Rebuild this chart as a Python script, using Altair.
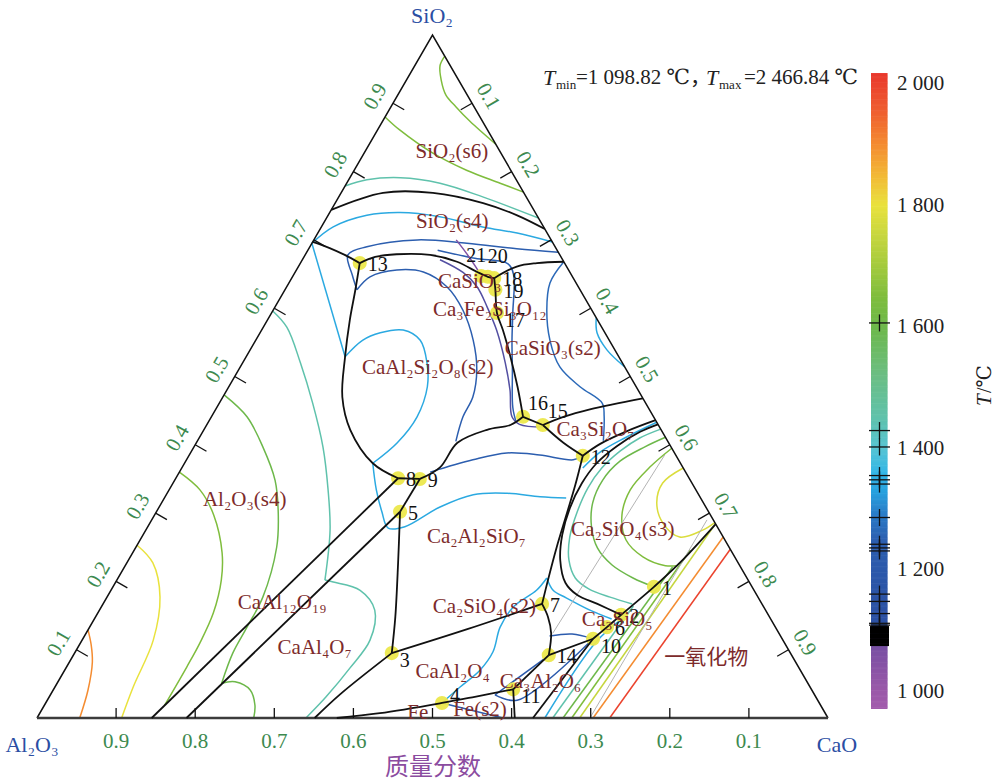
import altair as alt
import pandas as pd

# ---------------------------------------------------------------------------
# Page and triangle geometry (pixels)
# ---------------------------------------------------------------------------
W, H = 996, 781
LEFT_X, BASE_Y, SIDE_PX, HEIGHT_PX = 37, 718, 791, 683

SERIF = "Liberation Serif, DejaVu Serif, Noto Sans CJK SC, serif"
CJK = "Noto Sans CJK SC, sans-serif"

# ---------------------------------------------------------------------------
# Compositions are mass fractions written as (CaO, SiO2); Al2O3 is the balance
# ---------------------------------------------------------------------------

# Invariant points 1-21
POINT_ID = list(range(1, 22))
POINT_CAO = [0.684, 0.663, 0.401, 0.501, 0.308, 0.654, 0.555, 0.281, 0.309, 0.645,
             0.581, 0.498, 0.075, 0.601, 0.425, 0.394, 0.285, 0.256, 0.266, 0.247, 0.238]
POINT_SIO2 = [0.192, 0.151, 0.095, 0.022, 0.302, 0.133, 0.167, 0.351, 0.350, 0.116,
              0.042, 0.384, 0.666, 0.092, 0.429, 0.441, 0.593, 0.644, 0.627, 0.646, 0.647]
POINT_SIDE = ["e", "e", "se", "ene", "e", "e", "e", "e", "e", "se",
              "se", "e", "e", "e", "ne", "ne", "se", "e", "e", "n", "nw"]

# Phase-field boundaries
B_S6_S4 = [(0.000, 0.744), (0.053, 0.769), (0.116, 0.769), (0.187, 0.754), (0.239, 0.736), (0.284, 0.716)]
B_EDGE_13 = [(0.000, 0.697), (0.026, 0.688), (0.050, 0.678), (0.075, 0.666)]
B_13_18 = [(0.075, 0.666), (0.090, 0.675), (0.115, 0.679), (0.158, 0.678), (0.197, 0.668),
           (0.230, 0.653), (0.247, 0.646), (0.256, 0.644)]
B_18_EDGE = [(0.256, 0.644), (0.276, 0.661), (0.299, 0.666), (0.332, 0.668)]
B_13_8 = [(0.075, 0.666), (0.089, 0.627), (0.104, 0.583), (0.125, 0.529), (0.151, 0.470),
          (0.185, 0.422), (0.238, 0.373), (0.281, 0.351)]
B_8_9 = [(0.281, 0.351), (0.309, 0.350)]
B_9_16 = [(0.309, 0.350), (0.326, 0.367), (0.330, 0.403), (0.358, 0.422), (0.384, 0.429), (0.394, 0.441)]
B_18_16 = [(0.256, 0.644), (0.266, 0.627), (0.285, 0.593), (0.305, 0.568), (0.334, 0.529),
           (0.365, 0.485), (0.394, 0.441)]
B_16_15 = [(0.394, 0.441), (0.425, 0.429)]
B_15_EDGE = [(0.425, 0.429), (0.445, 0.441), (0.473, 0.452), (0.532, 0.468)]
B_15_12 = [(0.425, 0.429), (0.464, 0.403), (0.498, 0.384)]
B_12_EDGE = [(0.498, 0.384), (0.511, 0.401), (0.536, 0.420), (0.564, 0.436)]
B_12_7 = [(0.498, 0.384), (0.510, 0.341), (0.520, 0.300), (0.532, 0.250), (0.545, 0.202), (0.555, 0.167)]
B_7_14 = [(0.555, 0.167), (0.572, 0.148), (0.588, 0.124), (0.601, 0.092)]
B_C2S_LOOP = [(0.570, 0.430), (0.553, 0.419), (0.534, 0.398), (0.521, 0.373), (0.517, 0.344),
              (0.520, 0.307), (0.530, 0.268), (0.546, 0.231), (0.569, 0.198), (0.593, 0.180),
              (0.625, 0.167), (0.663, 0.151)]
B_10_EDGE = [(0.645, 0.116), (0.654, 0.133), (0.663, 0.151), (0.684, 0.192), (0.699, 0.227), (0.716, 0.284)]
B_10_BASE = [(0.645, 0.116), (0.627, 0.000)]
B_14_10 = [(0.601, 0.092), (0.645, 0.116)]
B_11_14 = [(0.581, 0.042), (0.601, 0.092)]
B_11_BASE = [(0.581, 0.042), (0.604, 0.000)]
B_BASE_11 = [(0.379, 0.000), (0.430, 0.007), (0.501, 0.022), (0.538, 0.031), (0.581, 0.042)]
B_3_7 = [(0.401, 0.095), (0.479, 0.130), (0.555, 0.167)]
B_5_3 = [(0.308, 0.302), (0.343, 0.227), (0.379, 0.148), (0.401, 0.095)]
B_9_5 = [(0.309, 0.350), (0.308, 0.302)]
B_BASE_8 = [(0.145, 0.000), (0.281, 0.351)]
B_BASE_5 = [(0.189, 0.000), (0.308, 0.302)]
B_BASE_3 = [(0.351, 0.000), (0.366, 0.035), (0.401, 0.095)]

BOUNDARIES = [B_S6_S4, B_EDGE_13, B_13_18, B_18_EDGE, B_13_8, B_8_9, B_9_16, B_18_16, B_16_15,
              B_15_EDGE, B_15_12, B_12_EDGE, B_12_7, B_7_14, B_C2S_LOOP, B_10_EDGE, B_10_BASE,
              B_14_10, B_11_14, B_11_BASE, B_BASE_11, B_3_7, B_5_3, B_9_5, B_BASE_8, B_BASE_5,
              B_BASE_3]

# Liquidus isotherms, temperature in deg C
ISO_APEX = [(0.031, 0.969), (0.032, 0.955), (0.044, 0.934), (0.061, 0.912), (0.082, 0.895), (0.110, 0.874), (0.160, 0.840)]
ISO_S6 = [(0.000, 0.880), (0.028, 0.861), (0.087, 0.827), (0.142, 0.802), (0.194, 0.783), (0.230, 0.770)]
ISO_S6_LOW = [(0.000, 0.779), (0.023, 0.788), (0.064, 0.791), (0.118, 0.783), (0.182, 0.763), (0.268, 0.732)]
ISO_S4 = [(0.000, 0.695), (0.015, 0.719), (0.049, 0.736), (0.089, 0.740), (0.142, 0.734), (0.204, 0.719), (0.252, 0.710), (0.303, 0.697)]
ISO_AN_EDGE = [(0.000, 0.695), (0.125, 0.529)]
ISO_AN_LOOP = [(0.125, 0.529), (0.135, 0.553), (0.152, 0.564), (0.179, 0.568), (0.208, 0.553), (0.233, 0.520),
               (0.251, 0.485), (0.260, 0.441), (0.254, 0.403), (0.238, 0.373)]
ISO_GEH = [(0.238, 0.373), (0.262, 0.334), (0.285, 0.302), (0.305, 0.278), (0.325, 0.280), (0.355, 0.309),
           (0.388, 0.327), (0.430, 0.329), (0.474, 0.324), (0.508, 0.322)]
ISO_DB_TOP = [(0.318, 0.682), (0.263, 0.687), (0.196, 0.695), (0.131, 0.700), (0.072, 0.690), (0.054, 0.678),
              (0.074, 0.649), (0.091, 0.627)]
ISO_DB_AN = [(0.091, 0.627), (0.098, 0.646), (0.127, 0.656), (0.162, 0.653), (0.203, 0.631), (0.240, 0.597),
             (0.275, 0.553), (0.301, 0.510), (0.316, 0.470), (0.318, 0.441), (0.327, 0.405)]
ISO_DB_9_12 = [(0.317, 0.360), (0.362, 0.378), (0.400, 0.388), (0.443, 0.385), (0.489, 0.378), (0.498, 0.384)]
ISO_DB_WOL = [(0.164, 0.685), (0.217, 0.673), (0.263, 0.665), (0.278, 0.649), (0.305, 0.593), (0.324, 0.553),
              (0.346, 0.510), (0.374, 0.455), (0.390, 0.432)]
ISO_PURPLE = [(0.180, 0.700), (0.202, 0.681), (0.226, 0.659), (0.238, 0.647)]
ISO_INDIGO = [(0.174, 0.671), (0.213, 0.652), (0.241, 0.631), (0.268, 0.602), (0.297, 0.568), (0.332, 0.520),
              (0.358, 0.480), (0.380, 0.441), (0.395, 0.430), (0.427, 0.426)]
ISO_WOL_RIGHT = [(0.332, 0.668), (0.330, 0.637), (0.346, 0.597), (0.372, 0.553), (0.404, 0.514), (0.444, 0.485),
                 (0.484, 0.461), (0.496, 0.442), (0.513, 0.406)]
ISO_WOL_EDGE = [(0.414, 0.586), (0.426, 0.564), (0.451, 0.539), (0.486, 0.514)]
ISO_C3S2 = [(0.507, 0.366), (0.517, 0.389), (0.538, 0.410), (0.567, 0.433)]
ISO_C2S_1450 = [(0.577, 0.423), (0.557, 0.410), (0.542, 0.391), (0.531, 0.366), (0.528, 0.337), (0.532, 0.302),
                (0.541, 0.265), (0.557, 0.231), (0.578, 0.205), (0.603, 0.189), (0.636, 0.177), (0.669, 0.167)]
ISO_C2S_1600 = [(0.589, 0.411), (0.570, 0.397), (0.549, 0.376), (0.541, 0.348), (0.545, 0.315), (0.561, 0.280),
                (0.584, 0.249), (0.615, 0.224), (0.651, 0.205), (0.684, 0.192)]
ISO_C2S_1650 = [(0.605, 0.395), (0.591, 0.367), (0.583, 0.334), (0.591, 0.297), (0.614, 0.261), (0.648, 0.236),
                (0.683, 0.223), (0.698, 0.223)]
ISO_C2S_1780 = [(0.634, 0.366), (0.619, 0.344), (0.626, 0.315), (0.649, 0.285), (0.680, 0.265), (0.704, 0.275), (0.714, 0.286)]
ISO_CA_LB = [(0.501, 0.022), (0.512, 0.045), (0.525, 0.070), (0.528, 0.097), (0.519, 0.133), (0.521, 0.163),
             (0.538, 0.187), (0.542, 0.205)]
ISO_C3S_LB = [(0.542, 0.205), (0.559, 0.187), (0.581, 0.176), (0.620, 0.158), (0.654, 0.145)]
ISO_C3A_TOP = [(0.588, 0.120), (0.615, 0.123), (0.645, 0.116)]
ISO_C3A_LEFT = [(0.562, 0.034), (0.601, 0.091)]
ISO_C3A_LOW = [(0.562, 0.034), (0.594, 0.026), (0.645, 0.116)]
ISO_FE = [(0.501, 0.022), (0.589, 0.000)]
ISO_MO_1340 = [(0.642, 0.000), (0.651, 0.111), (0.669, 0.148)]
ISO_MO_1450 = [(0.652, 0.000), (0.672, 0.164)]
ISO_MO_1600 = [(0.665, 0.000), (0.693, 0.221)]
ISO_MO_1650 = [(0.676, 0.000), (0.703, 0.246)]
ISO_MO_1750 = [(0.686, 0.000), (0.715, 0.280)]
ISO_MO_1900 = [(0.703, 0.000), (0.735, 0.265)]
ISO_MO_2000 = [(0.724, 0.000), (0.753, 0.247)]
ISO_AL_1900 = [(0.000, 0.129), (0.015, 0.107), (0.029, 0.082), (0.044, 0.041), (0.054, 0.000)]
ISO_AL_1800 = [(0.000, 0.253), (0.033, 0.227), (0.067, 0.177), (0.090, 0.114), (0.099, 0.045), (0.107, 0.000)]
ISO_AL_1650 = [(0.000, 0.360), (0.039, 0.334), (0.075, 0.297), (0.113, 0.242), (0.132, 0.202), (0.146, 0.154),
               (0.151, 0.110), (0.152, 0.075), (0.152, 0.018)]
ISO_AL_1600 = [(0.000, 0.473), (0.045, 0.441), (0.087, 0.397), (0.127, 0.348), (0.155, 0.300), (0.178, 0.250),
               (0.197, 0.177), (0.199, 0.133), (0.200, 0.095), (0.208, 0.051)]
ISO_CA4_1600 = [(0.208, 0.051), (0.224, 0.053), (0.249, 0.041), (0.266, 0.019), (0.274, 0.000)]
ISO_AL_1450 = [(0.000, 0.596), (0.030, 0.572), (0.073, 0.520), (0.118, 0.461), (0.163, 0.397), (0.201, 0.334),
               (0.233, 0.275), (0.263, 0.202)]
ISO_CA4_1450 = [(0.263, 0.202), (0.275, 0.199), (0.315, 0.187), (0.348, 0.158), (0.364, 0.114), (0.359, 0.073),
                (0.350, 0.031), (0.340, 0.000)]

ISOTHERMS = [
    ("apex", 1650, ISO_APEX), ("s6", 1650, ISO_S6), ("s6_low", 1450, ISO_S6_LOW), ("s4", 1340, ISO_S4),
    ("an_edge", 1340, ISO_AN_EDGE), ("an_loop", 1340, ISO_AN_LOOP), ("geh", 1340, ISO_GEH),
    ("db_top", 1240, ISO_DB_TOP), ("db_an", 1240, ISO_DB_AN), ("db_9_12", 1240, ISO_DB_9_12),
    ("db_wol", 1240, ISO_DB_WOL), ("purple", 1060, ISO_PURPLE), ("indigo", 1097, ISO_INDIGO),
    ("wol_right", 1265, ISO_WOL_RIGHT), ("wol_edge", 1340, ISO_WOL_EDGE), ("c3s2", 1340, ISO_C3S2),
    ("c2s_1450", 1450, ISO_C2S_1450), ("c2s_1600", 1600, ISO_C2S_1600), ("c2s_1650", 1650, ISO_C2S_1650),
    ("c2s_1780", 1780, ISO_C2S_1780), ("ca_lb", 1340, ISO_CA_LB), ("c3s_lb", 1340, ISO_C3S_LB),
    ("c3a_top", 1220, ISO_C3A_TOP), ("c3a_left", 1220, ISO_C3A_LEFT), ("c3a_low", 1220, ISO_C3A_LOW),
    ("fe", 1220, ISO_FE), ("mo_1340", 1340, ISO_MO_1340), ("mo_1450", 1450, ISO_MO_1450),
    ("mo_1600", 1600, ISO_MO_1600), ("mo_1650", 1650, ISO_MO_1650), ("mo_1750", 1750, ISO_MO_1750),
    ("mo_1900", 1900, ISO_MO_1900), ("mo_2000", 2000, ISO_MO_2000), ("al_1900", 1900, ISO_AL_1900),
    ("al_1800", 1800, ISO_AL_1800), ("al_1650", 1650, ISO_AL_1650), ("al_1600", 1600, ISO_AL_1600),
    ("ca4_1600", 1600, ISO_CA4_1600), ("al_1450", 1450, ISO_AL_1450), ("ca4_1450", 1450, ISO_CA4_1450),
]

# Grey composition lines across the dicalcium-silicate field
GREY_LINES = [[(0.590, 0.124), (0.601, 0.385)], [(0.699, 0.000), (0.702, 0.290)]]

# Primary-phase field names
PHASE_NAME = ["SiO₂(s6)", "SiO₂(s4)", "CaSiO₃", "Ca₃Fe₂Si₃O₁₂", "CaSiO₃(s2)", "CaAl₂Si₂O₈(s2)",
              "Ca₃Si₂O₇", "Al₂O₃(s4)", "Ca₂Al₂SiO₇", "Ca₂SiO₄(s3)", "CaAl₁₂O₁₉", "Ca₂SiO₄(s2)",
              "Ca₃SiO₅", "CaAl₄O₇", "CaAl₂O₄", "Ca₃Al₂O₆", "Fe", "Fe(s2)"]
PHASE_CAO = [0.110, 0.162, 0.228, 0.274, 0.382, 0.238, 0.495, 0.103, 0.423, 0.603, 0.226, 0.484,
             0.662, 0.300, 0.492, 0.610, 0.478, 0.554]
PHASE_SIO2 = [0.829, 0.726, 0.638, 0.597, 0.540, 0.512, 0.422, 0.319, 0.265, 0.275, 0.168, 0.163,
              0.143, 0.102, 0.067, 0.053, 0.007, 0.012]
MONOXIDE_NAME, MONOXIDE_CAO, MONOXIDE_SIO2 = "一氧化物", 0.802, 0.088

# Axis ticks (mass fraction)
AXIS_TICKS = [0.1, 0.2, 0.3, 0.4, 0.5, 0.6, 0.7, 0.8, 0.9]

# Colour bar
CB_LABELS = [1000, 1200, 1400, 1600, 1800, 2000]
CB_LOW, CB_HIGH = 972, 2018
INVARIANT_T = [1607, 1430, 1403, 1356, 1349, 1342, 1287, 1243, 1237, 1232, 1161, 1149, 1129, 1113, 1110]
TMIN_CLUSTER_T = [1078, 1082, 1086, 1090, 1094, 1098, 1102, 1106]

T_STOPS = [960, 1000, 1050, 1095, 1100, 1150, 1250, 1290, 1330, 1360, 1400, 1450, 1520,
           1600, 1650, 1700, 1750, 1800, 1850, 1900, 1950, 2030]
T_COLORS = ["#a65dae", "#9b59a9", "#8452a5", "#6c4ea1", "#2e51a3", "#2c53a5", "#2c5fb0", "#2a7ac6",
            "#27a2df", "#33b6e6", "#56c4d4", "#5fc2ac", "#6bbe84", "#6db84a", "#7fbd3d", "#a3ca3d",
            "#c6d63e", "#e9e23d", "#f2b836", "#f48c31", "#ef6230", "#e8302c"]

# ---------------------------------------------------------------------------
# Scales
# ---------------------------------------------------------------------------
x_scale = alt.Scale(domain=[-LEFT_X / SIDE_PX, (W - LEFT_X) / SIDE_PX], nice=False, zero=False)
y_scale = alt.Scale(domain=[(BASE_Y - H) / HEIGHT_PX, BASE_Y / HEIGHT_PX], nice=False, zero=False)
t_scale = alt.Scale(domain=T_STOPS, range=T_COLORS, interpolate="rgb")
# colour bar: 1 000 deg C at y = 692 px, 2 000 deg C at y = 84 px
PX_PER_DEG = (692 - 84) / 1000
cb_scale = alt.Scale(domain=[1000 - (H - 692) / PX_PER_DEG, 1000 + 692 / PX_PER_DEG], nice=False, zero=False)

X = alt.X("x:Q", scale=x_scale, axis=None)
Y = alt.Y("y:Q", scale=y_scale, axis=None)
X2 = alt.X2("x2:Q")
Y2 = alt.Y2("y2:Q")


def curves_frame(curves):
    rows = []
    for name, temp, pts in curves:
        for i, (cao, sio2) in enumerate(pts):
            rows.append({"curve": name, "T": temp, "i": i, "x": cao + sio2 / 2, "y": sio2})
    return pd.DataFrame(rows)


def points_frame(cao, sio2, **cols):
    df = pd.DataFrame({"cao": cao, "sio2": sio2, **cols})
    df["x"] = df.cao + df.sio2 / 2
    df["y"] = df.sio2
    return df


def px_text(text, px, py, **kw):
    return alt.Chart(pd.DataFrame({"t": [text]})).mark_text(**kw).encode(
        text="t:N", x=alt.value(px), y=alt.value(py))


layers = []

# ---- colour bar ----------------------------------------------------------
cb_df = pd.DataFrame({"t0": list(range(CB_LOW, CB_HIGH, 2))})
cb_df["t1"] = (cb_df.t0 + 3).clip(upper=CB_HIGH)
cb_df["tm"] = cb_df.t0 + 1
layers.append(alt.Chart(cb_df).mark_rect(strokeWidth=0).encode(
    x=alt.value(871), x2=alt.value(887.5),
    y=alt.Y("t0:Q", scale=cb_scale, axis=None), y2="t1:Q",
    color=alt.Color("tm:Q", scale=t_scale, legend=None)))

cross_df = pd.DataFrame({"T": INVARIANT_T})
cross_df["lo"] = cross_df["T"] - 14
cross_df["hi"] = cross_df["T"] + 14
layers.append(alt.Chart(cross_df).mark_rule(color="#111", strokeWidth=1.3).encode(
    x=alt.value(869), x2=alt.value(890), y=alt.Y("T:Q", scale=cb_scale, axis=None)))
layers.append(alt.Chart(cross_df).mark_rule(color="#111", strokeWidth=1.3).encode(
    x=alt.value(879.5), y=alt.Y("lo:Q", scale=cb_scale, axis=None), y2="hi:Q"))
cluster_df = pd.DataFrame({"T": TMIN_CLUSTER_T})
layers.append(alt.Chart(cluster_df).mark_rule(color="#000", strokeWidth=3).encode(
    x=alt.value(870), x2=alt.value(889), y=alt.Y("T:Q", scale=cb_scale, axis=None)))

cbl_df = pd.DataFrame({"T": CB_LABELS})
cbl_df["label"] = [f"{t // 1000} {t % 1000:03d}" for t in CB_LABELS]
layers.append(alt.Chart(cbl_df).mark_text(
    align="left", baseline="middle", font=SERIF, fontSize=21, color="#222").encode(
    x=alt.value(897), y=alt.Y("T:Q", scale=cb_scale, axis=None), text="label:N"))
layers.append(px_text("T", 985, 406, angle=270, align="left", baseline="middle",
                      font=SERIF, fontSize=21, fontStyle="italic", color="#222"))
layers.append(px_text("/℃", 985, 393, angle=270, align="left", baseline="middle",
                      font=SERIF, fontSize=20, color="#222"))

# ---- isotherms -------------------------------------------------------------
iso_df = curves_frame(ISOTHERMS)
layers.append(alt.Chart(iso_df).mark_line(interpolate="catmull-rom", strokeWidth=1.5).encode(
    x=X, y=Y, color=alt.Color("T:Q", scale=t_scale, legend=None),
    detail="curve:N", order="i:Q"))

grey_df = curves_frame([(f"g{k}", 0, pts) for k, pts in enumerate(GREY_LINES)])
layers.append(alt.Chart(grey_df).mark_line(color="#b4b4b4", strokeWidth=1).encode(
    x=X, y=Y, detail="curve:N", order="i:Q"))

# ---- triangle frame and ticks ---------------------------------------------
sides_df = curves_frame([("sides", 0, [(0, 0), (0, 1), (1, 0)])])
layers.append(alt.Chart(sides_df).mark_line(color="#111", strokeWidth=1.5).encode(
    x=X, y=Y, order="i:Q"))
base_df = curves_frame([("base", 0, [(0, 0), (1, 0)])])
layers.append(alt.Chart(base_df).mark_line(color="#3c3c3c", strokeWidth=2.5).encode(
    x=X, y=Y, order="i:Q"))

TICK_SIDE, TICK_BASE = 13, 10
tick_rows = []
for v in AXIS_TICKS:
    # Al2O3 along the base, SiO2 along the left side, CaO along the right side
    bx, by = (1 - v), 0.0
    tick_rows.append({"x": bx, "y": by, "x2": bx, "y2": by + TICK_BASE / HEIGHT_PX})
    lx, ly = v / 2, v
    tick_rows.append({"x": lx, "y": ly, "x2": lx + TICK_SIDE * 0.866 / SIDE_PX, "y2": ly - TICK_SIDE * 0.5 / HEIGHT_PX})
    rx, ry = v + (1 - v) / 2, 1 - v
    tick_rows.append({"x": rx, "y": ry, "x2": rx - TICK_SIDE * 0.866 / SIDE_PX, "y2": ry - TICK_SIDE * 0.5 / HEIGHT_PX})
layers.append(alt.Chart(pd.DataFrame(tick_rows)).mark_rule(color="#111", strokeWidth=1.3).encode(
    x=X, y=Y, x2=X2, y2=Y2))

lab = [f"{v:.1f}" for v in AXIS_TICKS]
GREEN = "#3d8a4f"
base_lab = points_frame([1 - v for v in AXIS_TICKS], [0.0] * 9, label=lab)
left_lab = points_frame([0.0] * 9, AXIS_TICKS, label=lab)
right_lab = points_frame(AXIS_TICKS, [1 - v for v in AXIS_TICKS], label=lab)
layers.append(alt.Chart(base_lab).mark_text(font=SERIF, fontSize=21, color=GREEN, dy=24,
                                            baseline="middle").encode(x=X, y=Y, text="label:N"))
layers.append(alt.Chart(left_lab).mark_text(font=SERIF, fontSize=21, color=GREEN, angle=300,
                                            dx=-3, dy=-18, baseline="middle").encode(x=X, y=Y, text="label:N"))
layers.append(alt.Chart(right_lab).mark_text(font=SERIF, fontSize=21, color=GREEN, angle=60,
                                             dx=2, dy=-17, baseline="middle").encode(x=X, y=Y, text="label:N"))

# ---- invariant points --------------------------------------------------------
pts_df = points_frame(POINT_CAO, POINT_SIO2, pid=[str(p) for p in POINT_ID], side=POINT_SIDE)
layers.append(alt.Chart(pts_df).mark_circle(size=200, color="#ece84c", opacity=0.95).encode(x=X, y=Y))

# ---- phase boundaries --------------------------------------------------------
bnd_df = curves_frame([(f"b{k}", 0, pts) for k, pts in enumerate(BOUNDARIES)])
layers.append(alt.Chart(bnd_df).mark_line(interpolate="catmull-rom", color="#111", strokeWidth=1.8).encode(
    x=X, y=Y, detail="curve:N", order="i:Q"))

# ---- point numbers -------------------------------------------------------------
LABEL_OFFSETS = {"e": (8, 2), "se": (8, 8), "ne": (5, -13), "ene": (8, -7), "n": (0, -20), "nw": (-15, -20)}
for side, (dx, dy) in LABEL_OFFSETS.items():
    sub = pts_df[pts_df.side == side]
    layers.append(alt.Chart(sub).mark_text(align="left", baseline="middle", dx=dx, dy=dy,
                                           font=SERIF, fontSize=20, color="#111").encode(
        x=X, y=Y, text="pid:N"))

# ---- phase field names ---------------------------------------------------------
phase_df = points_frame(PHASE_CAO, PHASE_SIO2, name=PHASE_NAME)
layers.append(alt.Chart(phase_df).mark_text(font=SERIF, fontSize=21, color="#7d2b2b",
                                            baseline="middle").encode(x=X, y=Y, text="name:N"))
mono_df = points_frame([MONOXIDE_CAO], [MONOXIDE_SIO2], name=[MONOXIDE_NAME])
layers.append(alt.Chart(mono_df).mark_text(font=CJK, fontSize=21, color="#7d2b2b",
                                           baseline="middle").encode(x=X, y=Y, text="name:N"))

# ---- component names and titles --------------------------------------------------
BLUE = "#2b4ea3"
layers.append(px_text("SiO₂", 432, 16, font=SERIF, fontSize=22, color=BLUE, baseline="middle"))
layers.append(px_text("Al₂O₃", 32, 745, font=SERIF, fontSize=22, color=BLUE, baseline="middle"))
layers.append(px_text("CaO", 837, 745, font=SERIF, fontSize=22, color=BLUE, baseline="middle"))
layers.append(px_text("质量分数", 433, 768, font=CJK, fontSize=24, color="#8b4ca0", baseline="middle"))

layers.append(px_text("T", 543, 78, font=SERIF, fontSize=22, fontStyle="italic", align="left", color="#222"))
layers.append(px_text("min", 556, 85, font=SERIF, fontSize=13, align="left", color="#222"))
layers.append(px_text("=1 098.82 ℃，", 576, 78, font=SERIF, fontSize=21, align="left", color="#222"))
layers.append(px_text("T", 706, 78, font=SERIF, fontSize=22, fontStyle="italic", align="left", color="#222"))
layers.append(px_text("max", 719, 85, font=SERIF, fontSize=13, align="left", color="#222"))
layers.append(px_text("=2 466.84 ℃", 744, 78, font=SERIF, fontSize=21, align="left", color="#222"))

chart = alt.layer(*layers).resolve_scale(
    x="independent", y="independent", color="independent"
).properties(
    width=W, height=H, padding=0, autosize=alt.AutoSizeParams(type="none"),
    background="white",
).configure_view(stroke=None)

chart.save("out.html", embed_options={"renderer": "svg", "actions": False})
